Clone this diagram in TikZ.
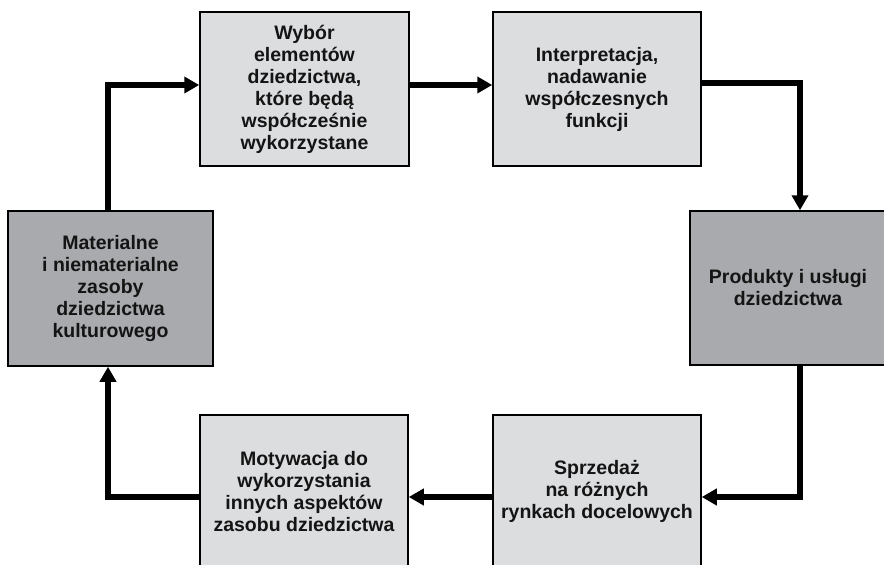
\documentclass[tikz,border=0pt]{standalone}
\usepackage{fontspec}
\setmainfont{Liberation Sans}
\usetikzlibrary{arrows.meta}
\definecolor{lightbox}{HTML}{DCDDDF}
\definecolor{darkbox}{HTML}{A8AAAD}
\begin{document}
\begin{tikzpicture}[x=1pt,y=-1pt,
  box/.style={draw=black, line width=1.5pt, align=center, inner sep=0pt,
    font=\fontsize{19.5}{22}\selectfont\bfseries, text=black!92},
  lbox/.style={box, fill=lightbox},
  dbox/.style={box, fill=darkbox},
  conn/.style={line width=5.5pt, -{Triangle[length=15pt,width=16pt]}}]
\useasboundingbox (0,0) rectangle (884,565);
\clip (0,0) rectangle (884,565);
\node[lbox, minimum width=209pt, minimum height=154pt] (wyb) at (304.5,89)
  {Wybór\\elementów\\dziedzictwa,\\które będą\\współcześnie\\wykorzystane};
\node[lbox, minimum width=208pt, minimum height=154pt] (int) at (597,89)
  {Interpretacja,\\nadawanie\\współczesnych\\funkcji};
\node[dbox, minimum width=205pt, minimum height=155pt] (mat) at (110.5,288.5)
  {Materialne\\i niematerialne\\zasoby\\dziedzictwa\\kulturowego};
\node[dbox, minimum width=196pt, minimum height=154pt] (prod) at (788,288)
  {Produkty i usługi\\dziedzictwa};
\node[lbox, minimum width=208pt, minimum height=153pt] (mot) at (304,491.5)
  {Motywacja do\\wykorzystania\\innych aspektów\\zasobu dziedzictwa};
\node[lbox, minimum width=208pt, minimum height=153pt] (spr) at (597,491.5)
  {Sprzedaż\\na różnych\\rynkach docelowych};
\draw[conn] ([xshift=-2.5pt]mat.north) |- ([yshift=4pt]wyb.west);
\draw[conn] ([yshift=4pt]wyb.east) -- ([yshift=4pt]int.west);
\draw[conn] ([yshift=6pt]int.east) -| ([xshift=12pt]prod.north);
\draw[conn] ([xshift=12pt]prod.south) |- ([yshift=-5.5pt]spr.east);
\draw[conn] ([yshift=-5.5pt]spr.west) -- ([yshift=-5.5pt]mot.east);
\draw[conn] ([yshift=-5.5pt]mot.west) -| ([xshift=-2.5pt]mat.south);
\end{tikzpicture}
\end{document}
